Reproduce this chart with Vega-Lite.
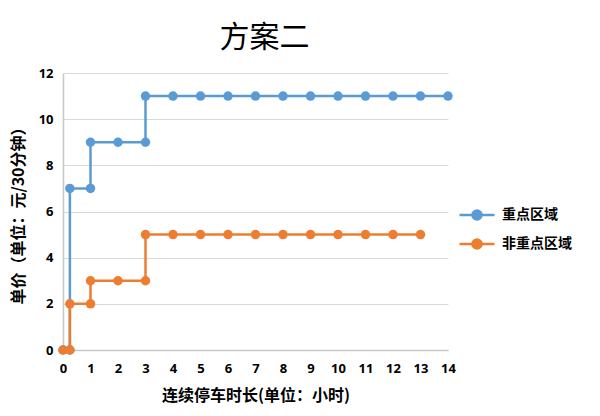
{
  "$schema": "https://vega.github.io/schema/vega-lite/v6.json",
  "autosize": "none",
  "padding": {"left": 63, "top": 73, "right": 152, "bottom": 66},
  "width": 385,
  "height": 277,
  "background": "white",
  "title": {
    "text": "方案二",
    "font": "Noto Sans CJK SC",
    "fontSize": 30,
    "fontWeight": "normal",
    "color": "#000000",
    "anchor": "middle",
    "dx": 9,
    "offset": 14
  },
  "data": {
    "values": [
      {"area": "重点区域", "i": 0, "hours": 0, "price": 0},
      {"area": "重点区域", "i": 1, "hours": 0.25, "price": 0},
      {"area": "重点区域", "i": 2, "hours": 0.25, "price": 7},
      {"area": "重点区域", "i": 3, "hours": 1, "price": 7},
      {"area": "重点区域", "i": 4, "hours": 1, "price": 9},
      {"area": "重点区域", "i": 5, "hours": 2, "price": 9},
      {"area": "重点区域", "i": 6, "hours": 3, "price": 9},
      {"area": "重点区域", "i": 7, "hours": 3, "price": 11},
      {"area": "重点区域", "i": 8, "hours": 4, "price": 11},
      {"area": "重点区域", "i": 9, "hours": 5, "price": 11},
      {"area": "重点区域", "i": 10, "hours": 6, "price": 11},
      {"area": "重点区域", "i": 11, "hours": 7, "price": 11},
      {"area": "重点区域", "i": 12, "hours": 8, "price": 11},
      {"area": "重点区域", "i": 13, "hours": 9, "price": 11},
      {"area": "重点区域", "i": 14, "hours": 10, "price": 11},
      {"area": "重点区域", "i": 15, "hours": 11, "price": 11},
      {"area": "重点区域", "i": 16, "hours": 12, "price": 11},
      {"area": "重点区域", "i": 17, "hours": 13, "price": 11},
      {"area": "重点区域", "i": 18, "hours": 14, "price": 11},
      {"area": "非重点区域", "i": 0, "hours": 0, "price": 0},
      {"area": "非重点区域", "i": 1, "hours": 0.25, "price": 0},
      {"area": "非重点区域", "i": 2, "hours": 0.25, "price": 2},
      {"area": "非重点区域", "i": 3, "hours": 1, "price": 2},
      {"area": "非重点区域", "i": 4, "hours": 1, "price": 3},
      {"area": "非重点区域", "i": 5, "hours": 2, "price": 3},
      {"area": "非重点区域", "i": 6, "hours": 3, "price": 3},
      {"area": "非重点区域", "i": 7, "hours": 3, "price": 5},
      {"area": "非重点区域", "i": 8, "hours": 4, "price": 5},
      {"area": "非重点区域", "i": 9, "hours": 5, "price": 5},
      {"area": "非重点区域", "i": 10, "hours": 6, "price": 5},
      {"area": "非重点区域", "i": 11, "hours": 7, "price": 5},
      {"area": "非重点区域", "i": 12, "hours": 8, "price": 5},
      {"area": "非重点区域", "i": 13, "hours": 9, "price": 5},
      {"area": "非重点区域", "i": 14, "hours": 10, "price": 5},
      {"area": "非重点区域", "i": 15, "hours": 11, "price": 5},
      {"area": "非重点区域", "i": 16, "hours": 12, "price": 5},
      {"area": "非重点区域", "i": 17, "hours": 13, "price": 5}
    ]
  },
  "mark": {
    "type": "line",
    "strokeWidth": 2.5,
    "point": {"filled": true, "size": 90, "opacity": 1}
  },
  "encoding": {
    "x": {
      "field": "hours",
      "type": "quantitative",
      "title": "连续停车时长(单位：小时)",
      "scale": {"domain": [0, 14], "nice": false},
      "axis": {
        "values": [0, 1, 2, 3, 4, 5, 6, 7, 8, 9, 10, 11, 12, 13, 14],
        "grid": false,
        "ticks": false,
        "labelFlush": false,
        "domainColor": "#c8c8c8",
        "domainWidth": 1.5,
        "labelPadding": 12,
        "titlePadding": 12
      }
    },
    "y": {
      "field": "price",
      "type": "quantitative",
      "title": "单价（单位：元/30分钟）",
      "scale": {"domain": [0, 12], "nice": false},
      "axis": {
        "values": [0, 2, 4, 6, 8, 10, 12],
        "grid": true,
        "gridColor": "#d9d9d9",
        "gridWidth": 1.2,
        "ticks": false,
        "labelFlush": false,
        "domainColor": "#c8c8c8",
        "domainWidth": 1.5,
        "labelPadding": 10,
        "titlePadding": 12
      }
    },
    "color": {
      "field": "area",
      "type": "nominal",
      "scale": {"domain": ["重点区域", "非重点区域"], "range": ["#5B9BD5", "#ED7D31"]},
      "legend": {
        "title": null,
        "orient": "none",
        "legendX": 395,
        "legendY": 123,
        "symbolType": "M-1,0L1,0M-0.26,0A0.26,0.26,0,1,1,0.26,0A0.26,0.26,0,1,1,-0.26,0Z",
        "symbolSize": 1225,
        "symbolStrokeWidth": 2.5,
        "rowPadding": 0,
        "labelOffset": 6,
        "labelFont": "Noto Sans CJK SC",
        "labelFontSize": 14,
        "labelFontWeight": "bold",
        "labelColor": "#000000",
        "encode": {
          "symbols": {"update": {"fill": {"scale": "color", "field": "value"}, "fillOpacity": {"value": 1}}}
        }
      }
    },
    "order": {"field": "i", "type": "quantitative"}
  },
  "config": {
    "view": {"stroke": null},
    "axis": {
      "labelFont": "Open Sans",
      "labelFontSize": 13,
      "labelFontWeight": "bold",
      "labelColor": "#000000",
      "titleFont": "Noto Sans CJK SC",
      "titleFontSize": 16,
      "titleFontWeight": "bold",
      "titleColor": "#000000"
    }
  }
}
